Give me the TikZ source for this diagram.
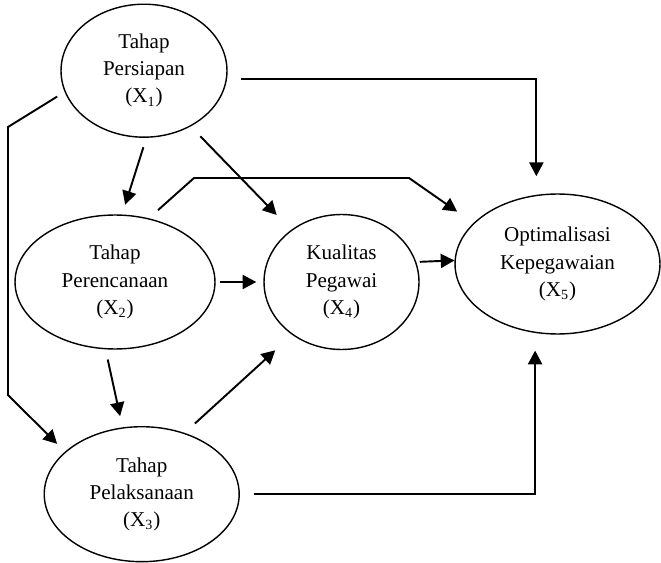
\documentclass[tikz,border=0pt]{standalone}
\usepackage{fontspec}
\setmainfont{Liberation Serif}
\usepackage{tikz}
\usetikzlibrary{arrows.meta,shapes.geometric,positioning,calc}

\tikzset{
    var/.style={ellipse, draw, line width=0.8pt, inner sep=0pt, align=center,
        font=\fontsize{12}{15.5}\selectfont},
    arr/.style={line width=1.1pt, -{Triangle[length=7.8pt,width=8pt]}}
}

\begin{document}
\begin{tikzpicture}[x=0.02cm, y=-0.02cm]
    \useasboundingbox (0,0) rectangle (661,563);

    % Variables
    \node[var, minimum width=3.32cm, minimum height=2.66cm] (x1) at (144,70.7) {Tahap\\Persiapan\\(X\textsubscript{1})};
    \node[var, minimum width=4.0cm, minimum height=2.68cm] (x2) at (115,282) {Tahap\\Perencanaan\\(X\textsubscript{2})};
    \node[var, minimum width=3.9cm, minimum height=2.7cm] (x3) at (141.7,494.2) {Tahap\\Pelaksanaan\\(X\textsubscript{3})};
    \node[var, minimum width=3.1cm, minimum height=2.7cm] (x4) at (341.5,282) {Kualitas\\Pegawai\\(X\textsubscript{4})};
    \node[var, minimum width=4.1cm, minimum height=2.8cm] (x5) at (557.5,264) {Optimalisasi\\Kepegawaian\\(X\textsubscript{5})};

    % Bends
    \coordinate (l1) at (8,127);
    \coordinate (l2) at (8,395);
    \coordinate (m1) at (194,178);
    \coordinate (m2) at (409,178);

    % Paths
    \draw[arr, shorten <=8pt, shorten >=10.6pt] (x1.-6.5) -| (x5.107.4);
    \draw[arr, shorten <=5pt, shorten >=6.3pt] (x1.195) -- (l1) -- (l2) -- (x3.151.4);
    \draw[arr, shorten <=5.6pt, shorten >=5.8pt] (x1.-88.5) -- (x2.84.1);
    \draw[arr, shorten <=7.8pt, shorten >=11.8pt] (x1.-50.8) -- (x4.134.1);
    \draw[arr, shorten <=7pt, shorten >=11.3pt] (x2.62.2) -- (m1) -- (m2) -- (x5.154.9);
    \draw[arr, shorten <=2.3pt, shorten >=4pt] (x2.east) -- (x4.west);
    \draw[arr, shorten <=2pt] (x4.15.9) -- (x5.178.3);
    \draw[arr, shorten <=5.9pt, shorten >=6.5pt] (x2.-98.1) -- (x3.106.4);
    \draw[arr, shorten <=7.9pt, shorten >=13pt] (x3.55.1) -- (x4.-133.1);
    \draw[arr, shorten <=8pt, shorten >=10pt] (x3.east) -| (x5.252.6);
\end{tikzpicture}
\end{document}
